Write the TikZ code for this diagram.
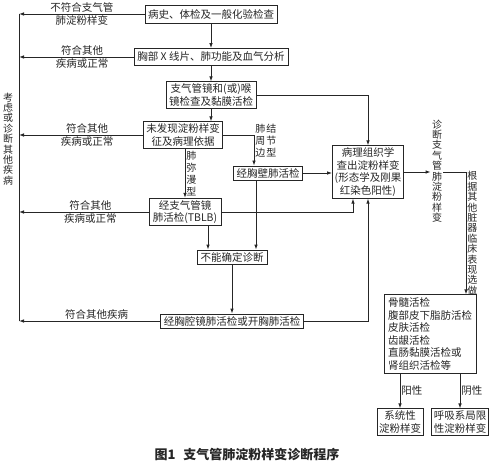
\documentclass[tikz,border=0pt]{standalone}
\usepackage{fontspec}
\setmainfont{Noto Sans CJK SC}
\usetikzlibrary{arrows.meta, positioning, calc}

\begin{document}
\begin{tikzpicture}[
    x=1pt, y=-1pt,
    >={Latex[length=5pt, width=3.6pt]},
    line width=0.9pt,
    color=black!85,
    font=\fontsize{10.5}{12.5}\selectfont,
    flowbox/.style={draw, rectangle, inner xsep=2pt, inner ysep=2pt, align=center, minimum height=14pt},
    listbox/.style={draw, rectangle, inner xsep=3pt, inner ysep=3pt, align=left},
    sidelabel/.style={inner sep=1pt, align=center},
    vertlabel/.style={inner sep=1pt, align=center, font=\fontsize{10}{10.4}\selectfont},
    steplabel/.style={inner sep=1pt, align=center, font=\fontsize{10}{12}\selectfont}
  ]
  \useasboundingbox (0,0) rectangle (492,465);

  % main column
  \node (history) [flowbox, minimum width=132pt, minimum height=18pt] at (211,14) {病史、体检及一般化验检查};
  \node (xray) [flowbox, minimum width=154pt, minimum height=17pt] at (211,57) {胸部 X 线片、肺功能及血气分析};
  \node (bronch) [flowbox, minimum width=90pt] at (211,95) {支气管镜和(或)喉\\镜检查及黏膜活检};
  \node (nofind) [flowbox, minimum width=79pt] at (183,135) {未发现淀粉样变\\征及病理依据};
  \node (ttnb) [flowbox, minimum width=69pt] at (268,173) {经胸壁肺活检};
  \node (tblb) [flowbox, minimum width=72pt] at (185,212) {经支气管镜\\肺活检(TBLB)};
  \node (undet) [flowbox, minimum width=70pt] at (232,257) {不能确定诊断};
  \node (vats) [flowbox, minimum width=143pt] at (232,321) {经胸腔镜肺活检或开胸肺活检};
  \node (patho) [flowbox, minimum width=71pt, minimum height=50pt] at (368,172) {病理组织学\\查出淀粉样变\\(形态学及刚果\\红染色阳性)};

  % right column
  \node (diag) [vertlabel] at (437,171) {诊\\断\\支\\气\\管\\肺\\淀\\粉\\样\\变};
  \node (biopsy) [listbox, minimum width=92pt, minimum height=76pt] at (430,334) {骨髓活检\\腹部皮下脂肪活检\\皮肤活检\\齿龈活检\\直肠黏膜活检或\\肾组织活检等};
  \node (sysam) [flowbox, minimum width=44pt] at (400,422) {系统性\\淀粉样变};
  \node (locam) [flowbox, minimum width=55pt] at (460,422) {呼吸系局限\\性淀粉样变};

  % left spine
  \coordinate (spinetop) at (19,14);
  \coordinate (spinebot) at (19,321);
  \node (consider) [vertlabel] at (8,139) {考\\虑\\或\\诊\\断\\其\\他\\疾\\病};
  \draw (spinetop) -- (spinebot);

  \draw[->] (history.west) -- node[sidelabel, above, pos=0.5] {不符合支气管} node[sidelabel, below, pos=0.5] {肺淀粉样变} (history.west -| spinetop);
  \draw[->] (xray.west) -- node[sidelabel, above, pos=0.45] {符合其他} node[sidelabel, below, pos=0.45] {疾病或正常} (xray.west -| spinetop);
  \draw[->] (nofind.west) -- node[sidelabel, above, pos=0.45] {符合其他} node[sidelabel, below, pos=0.45] {疾病或正常} (nofind.west -| spinetop);
  \draw[->] (tblb.west) -- node[sidelabel, above, pos=0.45] {符合其他} node[sidelabel, below, pos=0.45] {疾病或正常} (tblb.west -| spinetop);
  \draw[->] (vats.west) -- node[sidelabel, above, pos=0.45] {符合其他疾病} (spinebot);

  % flow
  \draw[->] (history) -- (xray);
  \draw[->] (xray) -- (bronch);
  \draw[->] (bronch.south) -- (bronch.south |- nofind.north);
  \draw[->] (bronch.east) -| (patho.north);
  \draw[->] (nofind.east) -| node[steplabel, right, pos=0.6] {肺\hspace{1pt}结\\周\hspace{1pt}节\\边\hspace{1pt}型} ([xshift=-14pt]ttnb.north);
  \draw[->] (tblb.north |- nofind.south) -- node[steplabel, right] {肺\\弥\\漫\\型} (tblb.north);
  \draw[->] (ttnb.east) -- (ttnb.east -| patho.west);
  \draw[->] (tblb.east) -| ([xshift=-15pt]patho.south);
  \draw[->] ([xshift=23pt]tblb.south) -- ([xshift=23pt]tblb.south |- undet.north);
  \draw[->] ([xshift=-12pt]ttnb.south) -- ([xshift=-12pt]ttnb.south |- undet.north);
  \draw[->] (undet) -- (vats);
  \draw[->] (vats.east) -| (patho.south);

  \draw[->] (patho.east) -- (patho.east -| diag.west);
  \draw[->] (diag.east |- patho.east) -| node[vertlabel, right, pos=0.75] {根\\据\\其\\他\\脏\\器\\临\\床\\表\\现\\选\\做} ([xshift=36pt]biopsy.north);
  \draw[->] (sysam.north |- biopsy.south) -- node[sidelabel, right] {阳性} (sysam.north);
  \draw[->] (locam.north |- biopsy.south) -- node[sidelabel, right] {阴性} (locam.north);

  \node (caption) [font=\fontsize{13}{15}\selectfont\bfseries] at (247,455) {图1\hspace{0.6em}支气管肺淀粉样变诊断程序};

\end{tikzpicture}
\end{document}
